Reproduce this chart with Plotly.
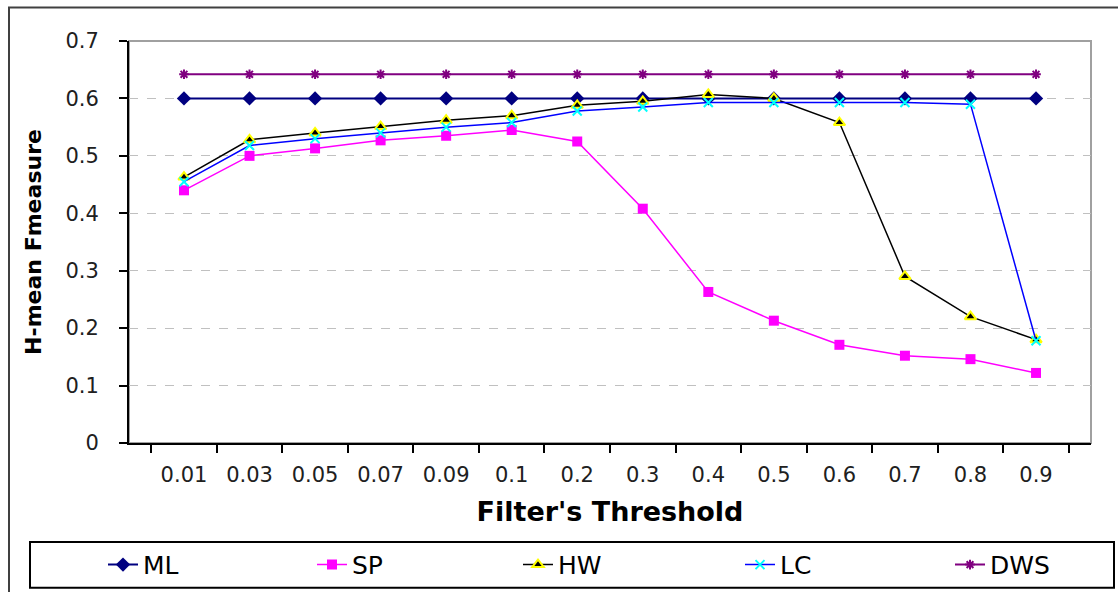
import plotly.graph_objects as go

thresholds = ["0.01", "0.03", "0.05", "0.07", "0.09", "0.1", "0.2", "0.3", "0.4", "0.5", "0.6", "0.7", "0.8", "0.9"]
ml = [0.60] * 14
sp = [0.440, 0.500, 0.513, 0.527, 0.535, 0.545, 0.525, 0.408, 0.263, 0.213, 0.171, 0.152, 0.146, 0.122]
hw = [0.463, 0.528, 0.540, 0.551, 0.562, 0.570, 0.588, 0.595, 0.607, 0.600, 0.558, 0.290, 0.220, 0.180]
lc = [0.455, 0.518, 0.530, 0.540, 0.550, 0.558, 0.578, 0.585, 0.593, 0.593, 0.593, 0.593, 0.590, 0.178]
dws = [0.642] * 14

FONT = "DejaVu Sans, Verdana, sans-serif"

FW, FH = 1118, 592

# reference pixel geometry of the plot area
PL, PR, PT, PB = 129, 1091, 40.5, 443
PW, PH = PR - PL, PB - PT


def px(x):
    return (x - PL) / PW


def py(y):
    return (PB - y) / PH


fig = go.Figure()
fig.add_trace(go.Scatter(x=thresholds, y=ml, name="ML", mode="lines+markers", legend="legend",
                         line=dict(color="#000080", width=2),
                         marker=dict(symbol="diamond", size=11, color="#000080")))
fig.add_trace(go.Scatter(x=thresholds, y=sp, name="SP", mode="lines+markers", legend="legend2",
                         line=dict(color="#FF00FF", width=1.5),
                         marker=dict(symbol="square", size=10, color="#FF00FF")))
fig.add_trace(go.Scatter(x=thresholds, y=hw, name="HW", mode="lines+markers", legend="legend3",
                         line=dict(color="#000000", width=1.5),
                         marker=dict(symbol="triangle-up", size=10, color="#000000",
                                     line=dict(color="#FFFF00", width=2))))
fig.add_trace(go.Scatter(x=thresholds, y=lc, name="LC", mode="lines+markers", legend="legend4",
                         line=dict(color="#0000FF", width=1.5),
                         marker=dict(symbol="x-thin-open", size=9, color="#00FFFF",
                                     line=dict(color="#00FFFF", width=2))))
fig.add_trace(go.Scatter(x=thresholds, y=dws, name="DWS", mode="lines+markers", legend="legend5",
                         line=dict(color="#800080", width=2),
                         marker=dict(symbol="asterisk-open", size=8, color="#800080",
                                     line=dict(color="#800080", width=2))))

text_starts = [145, 354, 560, 782, 992]
legends = {}
for i, ts in enumerate(text_starts):
    key = "legend" if i == 0 else f"legend{i + 1}"
    legends[key] = dict(x=px(ts - 42), xanchor="left", y=py(565), yanchor="middle",
                        font=dict(size=25, family=FONT), bgcolor="rgba(0,0,0,0)",
                        borderwidth=0, orientation="h")

fig.update_layout(
    width=FW, height=FH,
    margin=dict(l=PL, r=FW - PR, t=PT, b=FH - PB, autoexpand=False),
    paper_bgcolor="white", plot_bgcolor="white",
    font=dict(family=FONT, color="black", size=21),
    showlegend=True,
    xaxis=dict(
        type="category", tickson="boundaries", ticks="outside", ticklen=8, tickwidth=2,
        tickcolor="black", showline=True, linecolor="black", linewidth=2,
        showgrid=False, zeroline=False, ticklabelstandoff=12,
        tickfont=dict(size=21, family=FONT, color="#202020"),
        title=dict(text="<b>Filter's Threshold</b>", font=dict(size=27, family=FONT), standoff=16),
    ),
    yaxis=dict(
        range=[0, 0.7], dtick=0.1, tick0=0, ticks="outside", ticklen=8, tickwidth=1.5,
        tickcolor="black", showline=True, linecolor="black", linewidth=2,
        showgrid=True, gridcolor="#C0C0C0", griddash="dash", gridwidth=1, zeroline=False,
        ticklabelstandoff=16,
        tickfont=dict(size=21, family=FONT, color="#202020"),
        title=dict(text="<b>H-mean Fmeasure</b>", font=dict(size=22, family=FONT), standoff=18),
    ),
    shapes=[
        dict(type="rect", xref="paper", yref="paper", x0=0, x1=1, y0=0, y1=1,
             line=dict(color="#A0A0A0", width=2), layer="below"),
        dict(type="rect", xref="paper", yref="paper",
             x0=px(30), x1=px(1114), y0=py(542), y1=py(588),
             line=dict(color="black", width=2)),
        dict(type="rect", xref="paper", yref="paper",
             x0=px(9), x1=px(1130), y0=py(7), y1=py(620),
             line=dict(color="#404040", width=2)),
    ],
    **legends,
)

fig.write_html(
    "out.html",
    config={"displayModeBar": False},
    post_script="document.body.style.margin='0';document.body.style.overflow='hidden';",
)
